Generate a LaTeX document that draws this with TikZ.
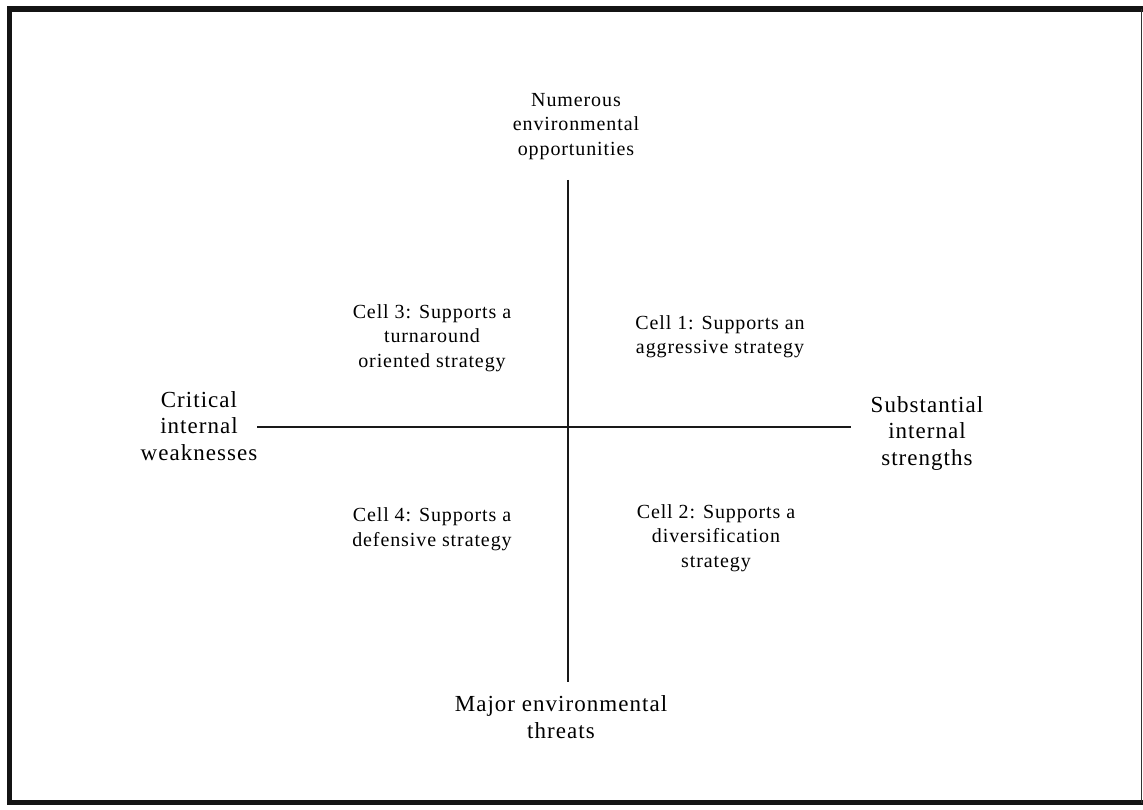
\documentclass[tikz,border=0pt]{standalone}
\usepackage{fontspec}
\setmainfont{Liberation Serif}
\newfontfamily\labfont[LetterSpace=4.5]{Liberation Serif}
\begin{document}
\begin{tikzpicture}[x=1pt,y=-1pt,
  small/.style={align=center,inner sep=0pt,font=\labfont\fontsize{20}{24.5}\selectfont},
  large/.style={align=center,inner sep=0pt,font=\labfont\fontsize{23}{26.5}\selectfont},
  axis/.style={line width=1.7pt,black!90}]
\useasboundingbox (0,0) rectangle (1143,810);
% frame
\draw[line width=5.5pt,black!92,line join=miter] (1143,9) -- (9.5,9) -- (9.5,802.5) -- (1143,802.5);
\draw[line width=1.5pt,black!80] (1141.5,9) -- (1141.5,802.5);
% axis end points
\coordinate (top) at (568,180);
\coordinate (bot) at (568,682);
\coordinate (lft) at (257,427);
\coordinate (rgt) at (851,427);
\draw[axis] (top) -- (bot);
\draw[axis] (lft) -- (rgt);
% axis labels
\node[small] (opp) at (576,126.5) {Numerous\\environmental\\opportunities};
\node[large] (thr) at (561,717) {Major environmental\\threats};
\node[large] (weak) at (199,426) {Critical\\internal\\weaknesses};
\node[large] (str) at (927,433.5) {Substantial\\internal\\strengths};
% quadrant labels
\node[small] (c3) at (432,338) {Cell 3: Supports a\\turnaround\\oriented strategy};
\node[small] (c1) at (720,336.5) {Cell 1: Supports an\\aggressive strategy};
\node[small] (c4) at (432,529) {Cell 4: Supports a\\defensive strategy};
\node[small] (c2) at (716,538) {Cell 2: Supports a\\diversification\\strategy};
\end{tikzpicture}
\end{document}
